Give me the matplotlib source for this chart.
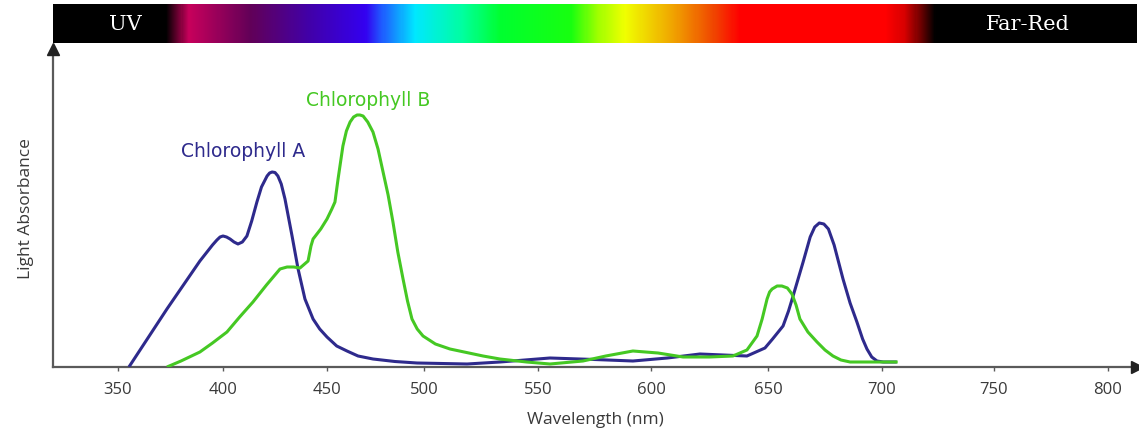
import numpy as np
import matplotlib
matplotlib.use("Agg")
import matplotlib.pyplot as plt
from matplotlib.colors import LinearSegmentedColormap

# ---- data (wavelength in nm, absorbance in arbitrary units) ----
chl_a_nm = [355.2, 373.3, 389.0, 395.0, 397.1, 398.6, 400.0, 401.7, 403.4, 405.3,
            407.2, 409.3, 411.5, 413.8, 416.3, 418.5, 421.2, 422.4, 423.6, 425.0,
            426.4, 428.0, 429.8, 433.2, 436.1, 439.4, 443.3, 446.5, 450.0, 455.0,
            460.3, 466.0, 473.7, 485.0, 496.4, 518.9, 533.3, 555.3, 575.0, 592.0,
            607.0, 620.9, 641.0, 648.7, 652.0, 656.6, 659.0, 661.0, 665.4, 668.5,
            670.5, 672.5, 674.5, 676.5, 679.0, 682.9, 686.0, 689.0, 691.5, 693.4,
            695.5, 697.8, 700.5, 706.6]
chl_a_abs = [0.0, 0.58, 1.06, 1.22, 1.27, 1.30, 1.31, 1.30, 1.28, 1.25,
             1.23, 1.25, 1.31, 1.46, 1.65, 1.80, 1.91, 1.94, 1.95, 1.945,
             1.91, 1.83, 1.68, 1.31, 0.98, 0.68, 0.48, 0.38, 0.30, 0.21,
             0.16, 0.11, 0.08, 0.055, 0.04, 0.03, 0.05, 0.09, 0.075, 0.06,
             0.09, 0.13, 0.11, 0.19, 0.28, 0.41, 0.56, 0.71, 1.05, 1.30,
             1.40, 1.44, 1.43, 1.38, 1.22, 0.88, 0.64, 0.45, 0.28, 0.18,
             0.10, 0.06, 0.05, 0.05]

chl_b_nm = [373.3, 380.0, 389.0, 395.0, 401.9, 408.0, 414.4, 420.9, 427.4, 430.8,
            434.0, 437.0, 440.9, 442.3, 443.3, 447.0, 450.0, 452.5, 454.1, 455.7,
            458.2, 460.0, 461.9, 463.7, 465.5, 467.0, 468.6, 471.0, 473.7, 476.3,
            478.9, 481.5, 484.0, 486.5, 489.2, 491.5, 493.8, 496.5, 499.5, 505.0,
            511.4, 525.9, 533.3, 545.0, 555.3, 569.9, 580.0, 592.0, 603.0, 613.7,
            625.0, 635.0, 641.0, 645.3, 647.5, 649.6, 650.7, 651.8, 654.0, 656.1,
            658.5, 660.5, 662.3, 664.0, 667.5, 671.5, 675.0, 678.5, 682.0, 686.0,
            707.0]
chl_b_abs = [0.0, 0.06, 0.15, 0.24, 0.35, 0.50, 0.65, 0.82, 0.98, 1.00,
             1.00, 0.99, 1.06, 1.21, 1.28, 1.38, 1.48, 1.58, 1.65, 1.88,
             2.21, 2.36, 2.45, 2.50, 2.52, 2.52, 2.51, 2.45, 2.35, 2.18,
             1.95, 1.72, 1.45, 1.15, 0.88, 0.66, 0.48, 0.38, 0.31, 0.23,
             0.18, 0.11, 0.08, 0.05, 0.03, 0.06, 0.11, 0.16, 0.14, 0.10,
             0.10, 0.11, 0.17, 0.31, 0.48, 0.68, 0.75, 0.78, 0.81, 0.81,
             0.79, 0.73, 0.62, 0.48, 0.35, 0.25, 0.17, 0.11, 0.07, 0.05,
             0.05]

tick_values = [350, 400, 450, 500, 550, 600, 650, 700, 750, 800]
series_names = ["Chlorophyll A", "Chlorophyll B"]
band_names = ["UV", "Far-Red"]

# ---- non-uniform axis scale (as drawn in the original) ----
scale_nm = [300, 350, 400, 450, 500, 550, 600, 650, 700, 750, 800, 850]
scale_pos = [13, 118, 223, 327, 424, 538, 651, 768, 882, 994, 1108, 1222]

def fwd(w):
    return np.interp(w, scale_nm, scale_pos)

def inv(p):
    return np.interp(p, scale_pos, scale_nm)

W, H = 1139, 439
fig = plt.figure(figsize=(W / 100, H / 100), dpi=100)

col_a = "#2e2a8c"
col_b = "#45c823"
axis_col = "#5a5a5a"
text_col = "#3a3a3a"

# main axes
x0, x1 = 53, 1137
y_base, y_top = 368, 50
ax = fig.add_axes([x0 / W, 1 - y_base / H, (x1 - x0) / W, (y_base - y_top) / H])
ax.set_xscale("function", functions=(fwd, inv))
ax.set_xlim(inv(x0), inv(x1))
ax.set_ylim(0, (y_base - y_top) / 100)

ax.plot(chl_a_nm, chl_a_abs, color=col_a, lw=2.2, solid_joinstyle="round",
        solid_capstyle="butt", zorder=3)
ax.plot(chl_b_nm, chl_b_abs, color=col_b, lw=2.2, solid_joinstyle="round",
        solid_capstyle="butt", zorder=3)

for s in ["top", "right"]:
    ax.spines[s].set_visible(False)
for s in ["left", "bottom"]:
    ax.spines[s].set_color(axis_col)
    ax.spines[s].set_linewidth(1.6)

ax.set_xticks(tick_values)
ax.set_xticklabels([str(v) for v in tick_values])
ax.tick_params(axis="x", direction="out", length=3, width=1, color=axis_col,
               labelsize=12, labelcolor=text_col, pad=7)
ax.minorticks_off()
ax.set_yticks([])
for lbl in ax.get_xticklabels():
    lbl.set_fontfamily("Open Sans")

# arrow heads
ax.plot(1, 0, marker=">", color="#222222", markersize=8, transform=ax.transAxes,
        clip_on=False, zorder=5)
ax.plot(0, 1, marker="^", color="#222222", markersize=8, transform=ax.transAxes,
        clip_on=False, zorder=5)

ax.set_xlabel("Wavelength (nm)", fontsize=12.5, color=text_col,
              family="Open Sans", labelpad=10)
ax.set_ylabel("Light Absorbance", fontsize=12.5, color=text_col,
              family="Open Sans", labelpad=14)

# series labels
ax.text(409.6, 2.16, series_names[0], color=col_a, fontsize=13.5,
        ha="center", va="center", family="DejaVu Sans")
ax.text(471.1, 2.67, series_names[1], color=col_b, fontsize=13.5,
        ha="center", va="center", family="DejaVu Sans")

# ---- spectrum bar ----
by0, by1 = 5, 44
bax = fig.add_axes([x0 / W, 1 - by1 / H, (x1 - x0) / W, (by1 - by0) / H])
stops_px = [53, 165, 188, 250, 308, 365, 381, 415, 462, 500, 571, 598, 625,
            675, 713, 740, 886, 905, 921, 936, 1137]
stops_col = ["#000000", "#000000", "#c8005c", "#620058", "#4200a8", "#3400f0",
             "#2058ff", "#00e8ff", "#00ffa0", "#00ff30", "#18ff10", "#a0ff00",
             "#f0ff00", "#f0a000", "#f04800", "#ff0000", "#ff0000", "#d80000",
             "#700000", "#000000", "#000000"]
fr = [(p - x0) / (x1 - x0) for p in stops_px]
cmap = LinearSegmentedColormap.from_list("spec", list(zip(fr, stops_col)), N=1024)
grad = np.linspace(0, 1, 1084).reshape(1, -1)
bax.imshow(grad, aspect="auto", cmap=cmap, extent=[0, 1, 0, 1],
           interpolation="nearest")
bax.set_xlim(0, 1)
bax.set_ylim(0, 1)
bax.axis("off")
bax.text((125 - x0) / (x1 - x0), 0.5, band_names[0], color="white", fontsize=15,
         family="DejaVu Serif", ha="center", va="center")
bax.text((1028 - x0) / (x1 - x0), 0.5, band_names[1], color="white", fontsize=15,
         family="DejaVu Serif", ha="center", va="center")

fig.savefig("out.png", dpi=100)
